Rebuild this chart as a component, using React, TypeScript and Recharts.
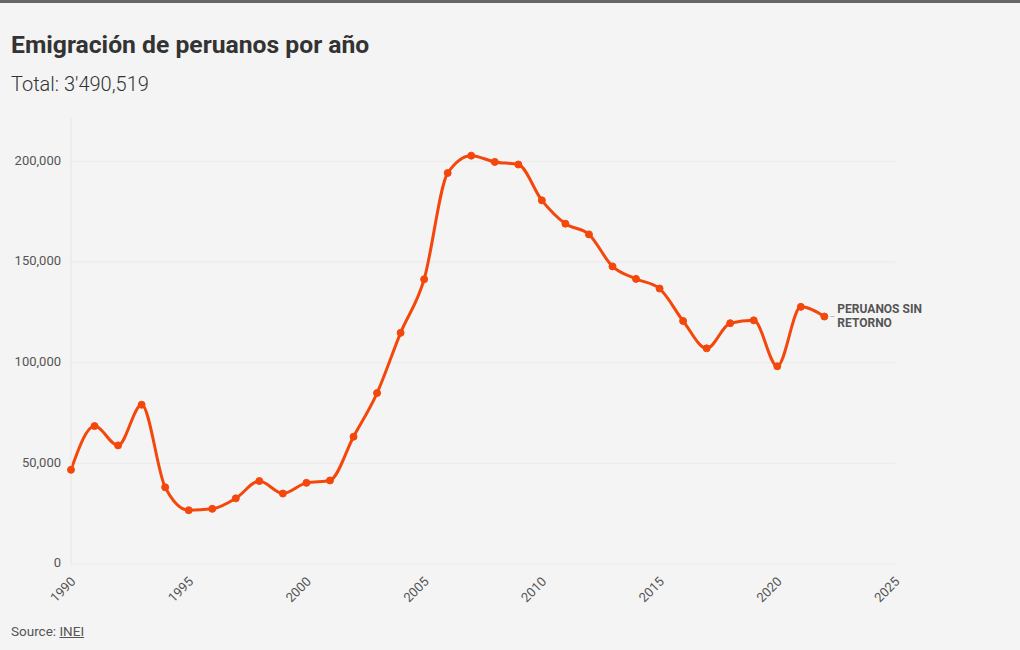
import { LineChart, Line, XAxis, YAxis, CartesianGrid, LabelList } from "recharts";

const years = [
  1990, 1991, 1992, 1993, 1994, 1995, 1996, 1997, 1998, 1999, 2000, 2001, 2002, 2003, 2004, 2005, 2006,
  2007, 2008, 2009, 2010, 2011, 2012, 2013, 2014, 2015, 2016, 2017, 2018, 2019, 2020, 2021, 2022,
];
const emigrants = [
  46800, 68500, 58900, 79100, 38100, 26700, 27400, 32600, 41200, 35000, 40300, 41500, 63200, 84900,
  114800, 141400, 194200, 202800, 199700, 198400, 180600, 169000, 163700, 147800, 141600, 136800,
  120700, 107100, 119600, 121000, 98200, 127700, 122900,
];
const xTicks = [1990, 1995, 2000, 2005, 2010, 2015, 2020, 2025];
const yTicks = [0, 50000, 100000, 150000, 200000];
const seriesLabel = ["PERUANOS SIN", "RETORNO"];

const FONT = "Roboto, 'Noto Sans', sans-serif";
const ORANGE = "#f4470c";

const data = years.map((year, i) => ({ year, value: emigrants[i] }));

function XTick(props: any) {
  const { x, y, payload } = props;
  const tx = x + 3;
  const ty = y + 8;
  return (
    <text
      x={tx}
      y={ty}
      transform={`rotate(-45 ${tx} ${ty})`}
      textAnchor="end"
      dominantBaseline="middle"
      fontSize={13}
      fill="#555"
      fontFamily={FONT}
    >
      {payload.value}
    </text>
  );
}

function YTick(props: any) {
  const { x, y, payload } = props;
  return (
    <text x={61} y={y} textAnchor="end" dominantBaseline="middle" fontSize={13} fill="#555" fontFamily={FONT}>
      {payload.value.toLocaleString("en-US")}
    </text>
  );
}

function EndLabel(props: any) {
  const { x, y, index } = props;
  if (index !== data.length - 1) return null;
  return (
    <g>
      <line x1={x + 6} x2={x + 10} y1={y} y2={y} stroke="#bbb" strokeWidth={1} />
      <text x={x + 13} y={y - 7} dominantBaseline="middle" fontSize={12} fontWeight={700} fill="#555" fontFamily={FONT}>
        {seriesLabel[0]}
      </text>
      <text x={x + 13} y={y + 7} dominantBaseline="middle" fontSize={12} fontWeight={700} fill="#555" fontFamily={FONT}>
        {seriesLabel[1]}
      </text>
    </g>
  );
}

export default function App() {
  return (
    <div
      style={{
        position: "absolute",
        left: 0,
        top: 0,
        width: 1020,
        height: 650,
        background: "#f4f4f4",
        fontFamily: FONT,
        color: "#333",
        overflow: "hidden",
      }}
    >
      <div style={{ height: 3, background: "#666" }} />
      <div style={{ position: "absolute", left: 11, top: 30, fontSize: 24.7, fontWeight: 700, color: "#333" }}>
        Emigración de peruanos por año
      </div>
      <div style={{ position: "absolute", left: 11, top: 72, fontSize: 20, fontWeight: 300, color: "#333" }}>
        Total: 3'490,519
      </div>
      <div style={{ position: "absolute", left: 0, top: 0 }}>
        <LineChart width={1020} height={650} data={data} margin={{ top: 117, right: 125, bottom: 56, left: 11 }}>
          <CartesianGrid vertical={false} horizontalValues={yTicks} stroke="#e9e9e9" strokeWidth={1} />
          <XAxis
            dataKey="year"
            type="number"
            domain={[1990, 2025]}
            ticks={xTicks}
            height={30}
            axisLine={false}
            tickLine={false}
            tick={<XTick />}
            interval={0}
          />
          <YAxis
            domain={[0, 222000]}
            ticks={yTicks}
            width={60}
            axisLine={{ stroke: "#e6e6e6" }}
            tickLine={false}
            tick={<YTick />}
            interval={0}
          />
          <Line
            type="monotone"
            dataKey="value"
            stroke={ORANGE}
            strokeWidth={3}
            dot={{ r: 3.5, fill: ORANGE, stroke: ORANGE, strokeWidth: 1 }}
            activeDot={false}
            isAnimationActive={false}
          >
            <LabelList dataKey="value" content={<EndLabel />} />
          </Line>
        </LineChart>
      </div>
      <div style={{ position: "absolute", left: 11, top: 623, fontSize: 13.5, color: "#555" }}>
        Source: <span style={{ textDecoration: "underline" }}>INEI</span>
      </div>
    </div>
  );
}
